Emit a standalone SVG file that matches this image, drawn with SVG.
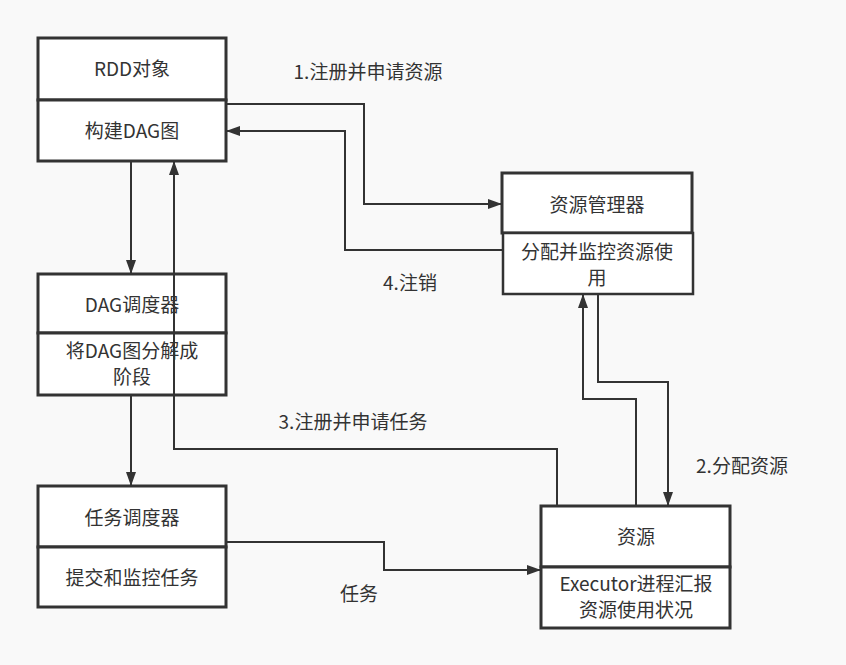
<svg xmlns="http://www.w3.org/2000/svg" width="846" height="665" viewBox="0 0 846 665">
<defs>
<marker id="arr" viewBox="0 0 14 10" refX="13" refY="5" markerWidth="14" markerHeight="10" markerUnits="userSpaceOnUse" orient="auto">
<path d="M0,0 L14,5 L0,10 Z" fill="#333"/>
</marker>
</defs>
<style>
.bx{fill:#fff;stroke:#333;stroke-width:3}
.bx2{fill:#fff;stroke:#333;stroke-width:2.5}
.t{font-family:"Noto Sans CJK SC","Noto Sans",sans-serif;font-size:19px;fill:#333;text-anchor:middle}
.c{fill:none;stroke:#333;stroke-width:2;marker-end:url(#arr)}
</style>
<rect width="846" height="665" fill="#f9f9f9"/>
<g id="rdd">
<rect class="bx" x="38" y="38" width="188" height="62"/>
<rect class="bx" x="38" y="100" width="188" height="61"/>
<text class="t" x="132" y="76">RDD对象</text>
<text class="t" x="132" y="138">构建DAG图</text>
</g>
<g id="dag">
<rect class="bx" x="38" y="274" width="188" height="59"/>
<rect class="bx" x="38" y="333" width="188" height="62"/>
<text class="t" x="132" y="312">DAG调度器</text>
<text class="t" x="132" y="358">将DAG图分解成</text>
<text class="t" x="132" y="384">阶段</text>
</g>
<g id="task">
<rect class="bx" x="38" y="486" width="188" height="61"/>
<rect class="bx" x="38" y="547" width="188" height="60"/>
<text class="t" x="132" y="525">任务调度器</text>
<text class="t" x="132" y="585">提交和监控任务</text>
</g>
<g id="rm">
<rect class="bx" x="502" y="173" width="190" height="60"/>
<rect class="bx2" x="503" y="233" width="190" height="61"/>
<text class="t" x="597" y="212">资源管理器</text>
<text class="t" x="597" y="259">分配并监控资源使</text>
<text class="t" x="597" y="285">用</text>
</g>
<g id="res">
<rect class="bx" x="541" y="506" width="189" height="61"/>
<rect class="bx" x="541" y="567" width="189" height="61"/>
<text class="t" x="636" y="544">资源</text>
<text class="t" x="636" y="591">Executor进程汇报</text>
<text class="t" x="636" y="617">资源使用状况</text>
</g>
<g id="connectors">
<path class="c" d="M226,104 H364 V204 H501"/>
<path class="c" d="M503,250 H345 V131 H227"/>
<path class="c" d="M131,161 V273"/>
<path class="c" d="M131,395 V485"/>
<path class="c" d="M557,505 V449 H174 V162"/>
<path class="c" d="M636,505 V399 H583 V295"/>
<path class="c" d="M598,294 V382 H668 V505"/>
<path class="c" d="M226,542 H384 V570 H540"/>
<text class="t" x="368" y="79">1.注册并申请资源</text>
<text class="t" x="410" y="290">4.注销</text>
<text class="t" x="353" y="429">3.注册并申请任务</text>
<text class="t" x="742" y="473">2.分配资源</text>
<text class="t" x="359" y="601">任务</text>
</g>
</svg>
